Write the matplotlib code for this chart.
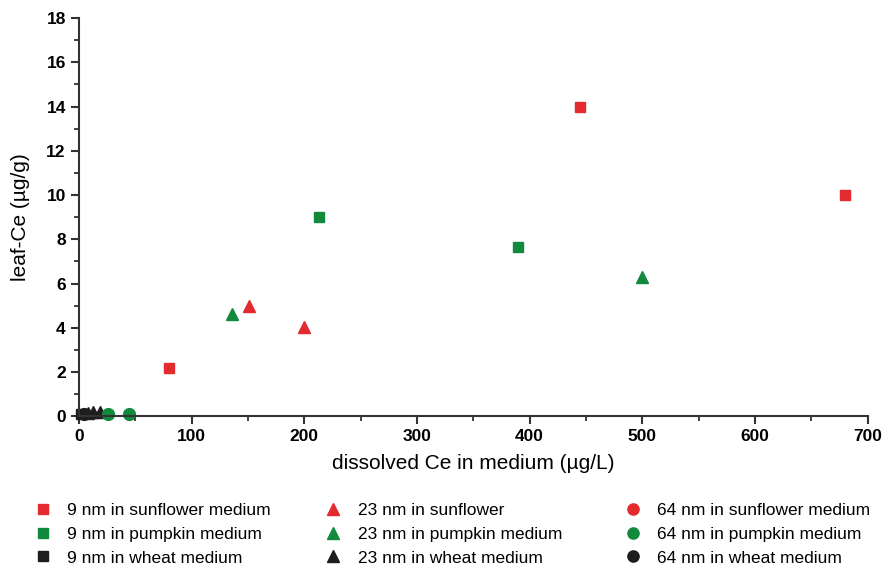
import matplotlib
matplotlib.use("Agg")
import matplotlib.pyplot as plt
from matplotlib.ticker import MultipleLocator

plt.rcParams['font.family'] = ['Liberation Sans', 'DejaVu Sans']

# data: dissolved Ce (ug/L) vs leaf Ce (ug/g)
sq_sunflower_x = [80, 445, 680]
sq_sunflower_y = [2.2, 14.0, 10.0]
sq_pumpkin_x = [213, 390]
sq_pumpkin_y = [9.0, 7.67]
sq_wheat_x = [2]
sq_wheat_y = [0.12]

tri_sunflower_x = [151, 200]
tri_sunflower_y = [5.0, 4.05]
tri_pumpkin_x = [136, 500]
tri_pumpkin_y = [4.6, 6.3]
tri_wheat_x = [8, 12, 19]
tri_wheat_y = [0.15, 0.2, 0.2]

ci_sunflower_x = []
ci_sunflower_y = []
ci_pumpkin_x = [26, 44]
ci_pumpkin_y = [0.12, 0.12]
ci_wheat_x = [4]
ci_wheat_y = [0.1]

labels_9 = ["9 nm in sunflower medium", "9 nm in pumpkin medium", "9 nm in wheat medium"]
labels_23 = ["23 nm in sunflower", "23 nm in pumpkin medium", "23 nm in wheat medium"]
labels_64 = ["64 nm in sunflower medium", "64 nm in pumpkin medium", "64 nm in wheat medium"]

red = "#e32b2f"
green = "#128a3e"
black = "#1e1e1e"

fig = plt.figure(figsize=(8.82, 5.64), dpi=100)
ax = fig.add_axes([0.0896, 0.262, 0.894, 0.706])

h9 = []
h23 = []
h64 = []
for xs, ys, c, lab in zip([sq_sunflower_x, sq_pumpkin_x, sq_wheat_x],
                          [sq_sunflower_y, sq_pumpkin_y, sq_wheat_y],
                          [red, green, black], labels_9):
    h, = ax.plot(xs, ys, ls="none", marker="s", ms=7.5, color=c, mec=c, label=lab, clip_on=False)
    h9.append(h)
for xs, ys, c, lab in zip([tri_sunflower_x, tri_pumpkin_x, tri_wheat_x],
                          [tri_sunflower_y, tri_pumpkin_y, tri_wheat_y],
                          [red, green, black], labels_23):
    h, = ax.plot(xs, ys, ls="none", marker="^", ms=8.5, color=c, mec=c, label=lab, clip_on=False)
    h23.append(h)
for xs, ys, c, lab in zip([ci_sunflower_x, ci_pumpkin_x, ci_wheat_x],
                          [ci_sunflower_y, ci_pumpkin_y, ci_wheat_y],
                          [red, green, black], labels_64):
    h, = ax.plot(xs, ys, ls="none", marker="o", ms=8.5, color=c, mec=c, label=lab, clip_on=False)
    h64.append(h)

ax.set_xlim(0, 700)
ax.set_ylim(0, 18)
ax.xaxis.set_major_locator(MultipleLocator(100))
ax.xaxis.set_minor_locator(MultipleLocator(50))
ax.yaxis.set_major_locator(MultipleLocator(2))
ax.yaxis.set_minor_locator(MultipleLocator(1))

for s in ["top", "right"]:
    ax.spines[s].set_visible(False)
for s in ["left", "bottom"]:
    ax.spines[s].set_linewidth(1.5)
    ax.spines[s].set_color("#333333")

ax.tick_params(which="major", direction="out", length=6, width=1.5, color="#333333",
               labelsize=12.5)
ax.tick_params(which="minor", direction="out", length=3.5, width=1.3, color="#333333")
for t in ax.get_xticklabels() + ax.get_yticklabels():
    t.set_fontweight("bold")

ax.set_xlabel("dissolved Ce in medium (\u00b5g/L)", fontsize=15, labelpad=7)
ax.set_ylabel("leaf-Ce (\u00b5g/g)", fontsize=15, labelpad=12)

# three separate legend columns under the plot
leg_kw = dict(frameon=False, fontsize=12.5, handlelength=0.8, handletextpad=1.0,
              labelspacing=0.49, borderaxespad=0, borderpad=0, markerscale=0.95)
fig.legend(handles=h9, loc="upper left", bbox_to_anchor=(0.041, 0.108), **leg_kw)
fig.legend(handles=h23, loc="upper left", bbox_to_anchor=(0.370, 0.108), **leg_kw)
fig.legend(handles=h64, loc="upper left", bbox_to_anchor=(0.710, 0.108), **leg_kw)

fig.savefig("out.png", dpi=100)
